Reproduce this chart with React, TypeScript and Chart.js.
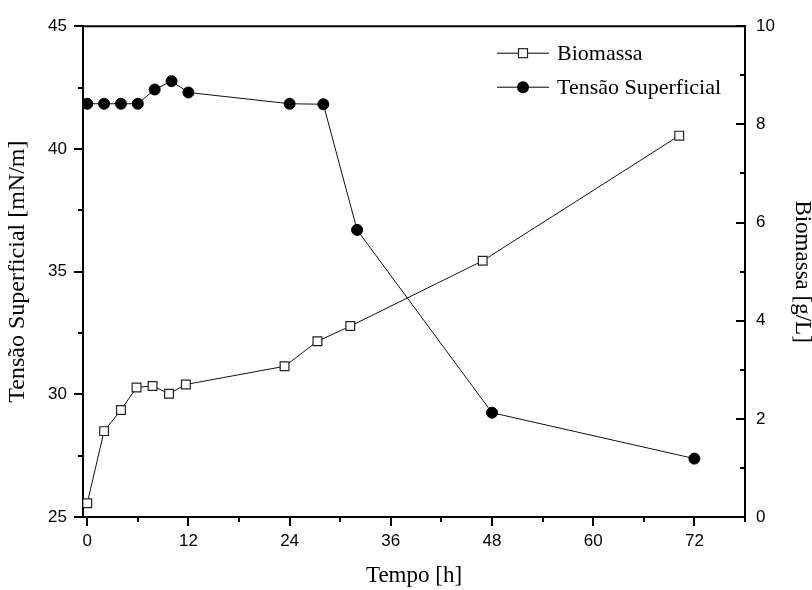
import React, { useEffect, useRef } from 'react';
import { Chart, registerables } from 'chart.js';

Chart.register(...registerables);

// ---- data ----
const timeBiomassa = [0, 2, 4, 5.85, 7.75, 9.7, 11.7, 23.4, 27.3, 31.2, 46.9, 70.2];
const biomassa = [0.28, 1.75, 2.18, 2.64, 2.67, 2.51, 2.7, 3.07, 3.58, 3.89, 5.22, 7.77];
const timeTensao = [0, 2, 4, 6, 8, 10, 12, 24, 28, 32, 48, 72];
const tensao = [41.84, 41.84, 41.84, 41.84, 42.42, 42.76, 42.3, 41.84, 41.82, 36.7, 29.25, 27.38];

const xTicks = [0, 12, 24, 36, 48, 60, 72];
const xMinor = [6, 18, 30, 42, 54, 66, 78];
const leftTicks = [25, 30, 35, 40, 45];
const leftMinor = [27.5, 32.5, 37.5, 42.5];
const rightTicks = [0, 2, 4, 6, 8, 10];
const rightMinor = [1, 3, 5, 7, 9];

const seriesLabels = ['Biomassa', 'Tensão Superficial'];

const SANS = "'Liberation Sans', Arial, sans-serif";
const SERIF = "'Liberation Serif', 'Times New Roman', serif";

const framePlugin = {
  id: 'frameAndTicks',
  afterDraw(chart: any) {
    const ctx = chart.ctx;
    const area = chart.chartArea;
    const sx = chart.scales.x;
    const sy = chart.scales.y;
    const sy1 = chart.scales.y1;
    ctx.save();
    ctx.strokeStyle = '#000';
    ctx.lineWidth = 2;
    const seg = (a: number, b: number, c: number, d: number) => {
      ctx.beginPath();
      ctx.moveTo(a, b);
      ctx.lineTo(c, d);
      ctx.stroke();
    };
    // top frame
    seg(area.left - 1, area.top, area.right + 1, area.top);
    // x ticks (outward, down)
    xTicks.forEach((v) => {
      const p = Math.round(sx.getPixelForValue(v));
      seg(p, area.bottom, p, area.bottom + 9);
    });
    xMinor.forEach((v) => {
      const p = Math.round(sx.getPixelForValue(v));
      seg(p, area.bottom, p, area.bottom + 5);
    });
    // left ticks (outward)
    leftTicks.forEach((v) => {
      const p = Math.round(sy.getPixelForValue(v));
      seg(area.left - 9, p, area.left, p);
    });
    leftMinor.forEach((v) => {
      const p = Math.round(sy.getPixelForValue(v));
      seg(area.left - 5, p, area.left, p);
    });
    // right ticks (inward)
    rightTicks.forEach((v) => {
      const p = Math.round(sy1.getPixelForValue(v));
      seg(area.right - 9, p, area.right, p);
    });
    rightMinor.forEach((v) => {
      const p = Math.round(sy1.getPixelForValue(v));
      seg(area.right - 5, p, area.right, p);
    });

    // legend
    const lx0 = area.right - 248;
    const lx1 = area.right - 196;
    const mx = (lx0 + lx1) / 2;
    const tx = area.right - 188;
    const rows = [area.top + 27, area.top + 61];
    ctx.lineWidth = 1;
    ctx.strokeStyle = '#000';
    ctx.font = `22px ${SERIF}`;
    ctx.fillStyle = '#000';
    ctx.textBaseline = 'middle';
    ctx.textAlign = 'left';
    // row 1: square
    seg(lx0, rows[0], lx1, rows[0]);
    ctx.fillStyle = '#fff';
    ctx.fillRect(mx - 4.5, rows[0] - 4.5, 9, 9);
    ctx.strokeStyle = '#222';
    ctx.lineWidth = 1.2;
    ctx.strokeRect(mx - 4.5, rows[0] - 4.5, 9, 9);
    ctx.fillStyle = '#000';
    ctx.fillText(seriesLabels[0], tx, rows[0] + 1);
    // row 2: circle
    ctx.strokeStyle = '#000';
    ctx.lineWidth = 1;
    seg(lx0, rows[1], lx1, rows[1]);
    ctx.beginPath();
    ctx.arc(mx, rows[1], 6, 0, Math.PI * 2);
    ctx.fill();
    ctx.fillText(seriesLabels[1], tx, rows[1] + 1);
    ctx.restore();
  },
};

export default function App() {
  const canvasRef = useRef<HTMLCanvasElement | null>(null);

  useEffect(() => {
    document.body.style.margin = '0';
    const canvas = canvasRef.current;
    if (!canvas) return;
    const chart = new Chart(canvas, {
      type: 'line',
      data: {
        datasets: [
          {
            label: seriesLabels[0],
            data: timeBiomassa.map((t, i) => ({ x: t, y: biomassa[i] })),
            yAxisID: 'y1',
            borderColor: '#111',
            borderWidth: 1,
            pointStyle: 'rect',
            pointRadius: 6.2,
            pointBackgroundColor: '#fff',
            pointBorderColor: '#222',
            pointBorderWidth: 1.2,
            fill: false,
            tension: 0,
          },
          {
            label: seriesLabels[1],
            data: timeTensao.map((t, i) => ({ x: t, y: tensao[i] })),
            yAxisID: 'y',
            borderColor: '#111',
            borderWidth: 1,
            pointStyle: 'circle',
            pointRadius: 5.5,
            pointBackgroundColor: '#000',
            pointBorderColor: '#000',
            pointBorderWidth: 1,
            fill: false,
            tension: 0,
          },
        ],
      },
      options: {
        responsive: false,
        animation: false,
        events: [],
        layout: { padding: { top: 24, left: 0, right: 0, bottom: 0 } },
        plugins: {
          legend: { display: false },
          tooltip: { enabled: false },
        },
        scales: {
          x: {
            type: 'linear',
            min: -0.5,
            max: 78,
            afterBuildTicks: (s: any) => {
              s.ticks = xTicks.map((v) => ({ value: v }));
            },
            afterFit: (s: any) => {
              s.height = 73;
            },
            grid: { display: true, drawOnChartArea: false, drawTicks: false },
            border: { display: true, color: '#000', width: 2 },
            ticks: {
              color: '#000',
              font: { family: SANS, size: 17 },
              padding: 14,
              maxRotation: 0,
              autoSkip: false,
            },
            title: {
              display: true,
              text: 'Tempo [h]',
              color: '#000',
              font: { family: SERIF, size: 23, lineHeight: 1 },
              padding: { top: 0, bottom: 3 },
            },
          },
          y: {
            type: 'linear',
            position: 'left',
            min: 25,
            max: 45,
            afterBuildTicks: (s: any) => {
              s.ticks = leftTicks.map((v) => ({ value: v }));
            },
            afterFit: (s: any) => {
              s.width = 83;
            },
            grid: { display: true, drawOnChartArea: false, drawTicks: false },
            border: { display: true, color: '#000', width: 2 },
            ticks: {
              color: '#000',
              font: { family: SANS, size: 17 },
              padding: 16,
            },
            title: {
              display: true,
              text: 'Tensão Superficial [mN/m]',
              color: '#000',
              font: { family: SERIF, size: 24, lineHeight: 1 },
              padding: { top: 6, bottom: 0 },
            },
          },
          y1: {
            type: 'linear',
            position: 'right',
            min: 0,
            max: 10,
            afterBuildTicks: (s: any) => {
              s.ticks = rightTicks.map((v) => ({ value: v }));
            },
            afterFit: (s: any) => {
              s.width = 67;
            },
            grid: { display: true, drawOnChartArea: false, drawTicks: false },
            border: { display: true, color: '#000', width: 2 },
            ticks: {
              color: '#000',
              font: { family: SANS, size: 17 },
              padding: 11,
            },
            title: {
              display: true,
              text: 'Biomassa [g/L]',
              color: '#000',
              font: { family: SERIF, size: 23, lineHeight: 1 },
              padding: { top: -2, bottom: 0 },
            },
          },
        },
      },
      plugins: [framePlugin],
    } as any);
    return () => {
      chart.destroy();
    };
  }, []);

  return (
    <div style={{ width: 812, height: 590, background: '#fff' }}>
      <canvas ref={canvasRef} width={812} height={590} style={{ display: 'block' }} />
    </div>
  );
}
